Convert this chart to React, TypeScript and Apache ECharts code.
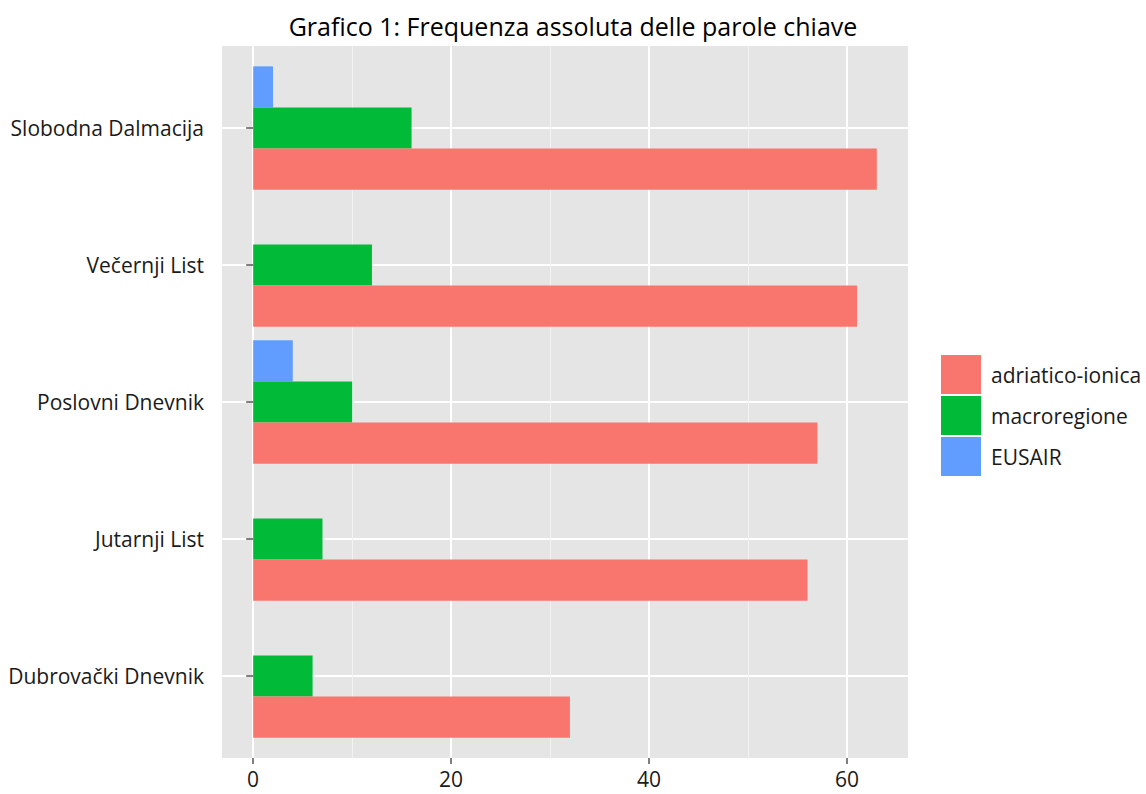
import React, { useEffect, useRef } from "react";
import * as echarts from "echarts";

const categories = [
  "Slobodna Dalmacija",
  "Večernji List",
  "Poslovni Dnevnik",
  "Jutarnji List",
  "Dubrovački Dnevnik",
];
const adriaticoIonica = [63, 61, 57, 56, 32];
const macroregione = [16, 12, 10, 7, 6];
const eusair = [2, 0, 4, 0, 0];
const legendOrder = ["adriatico-ionica", "macroregione", "EUSAIR"];

const FONT = "'Open Sans', 'Noto Sans', sans-serif";
const TEXT = "#1a1a1a";
const TICK = "#7f7f7f";

export default function App() {
  const ref = useRef<HTMLDivElement>(null);
  useEffect(() => {
    if (!ref.current) return;
    const chart = echarts.init(ref.current, null, { renderer: "svg" });
    const barCommon = {
      type: "bar",
      xAxisIndex: 2,
      yAxisIndex: 2,
      barGap: "0%",
      barCategoryGap: "10%",
      clip: false,
    };
    chart.setOption({
      animation: false,
      backgroundColor: "#ffffff",
      title: {
        text: "Grafico 1: Frequenza assoluta delle parole chiave",
        left: "center",
        top: 8,
        textStyle: { fontFamily: FONT, fontSize: 25, fontWeight: "normal", color: "#000" },
      },
      legend: {
        orient: "vertical",
        left: 941,
        top: 355,
        itemWidth: 40,
        itemHeight: 39,
        itemGap: 2,
        icon: "rect",
        padding: 0,
        selectedMode: false,
        data: legendOrder,
        textStyle: { fontFamily: FONT, fontSize: 21, color: TEXT, padding: [0, 0, 0, 5] },
      },
      grid: [
        { left: 222, top: 46, width: 686, height: 712, show: true, backgroundColor: "#E5E5E5", borderWidth: 0 },
        { left: 253, top: 46, width: 594, height: 712 },
        { left: 222, top: 128, width: 686, height: 548 },
      ],
      xAxis: [
        { gridIndex: 0, type: "value", show: false, min: 0, max: 1 },
        {
          gridIndex: 1,
          type: "value",
          min: 0,
          max: 60,
          interval: 20,
          axisLine: { show: false },
          axisTick: { show: true, length: 6, lineStyle: { color: TICK, width: 2 } },
          axisLabel: {
            margin: 10,
            fontSize: 21,
            lineHeight: 21,
            color: TEXT,
            fontFamily: FONT,
            showMinLabel: true,
            showMaxLabel: true,
          },
          splitLine: { show: true, lineStyle: { color: "#ffffff", width: 2 } },
          minorTick: { show: false, splitNumber: 2 },
          minorSplitLine: { show: true, lineStyle: { color: "#F2F2F2", width: 1 } },
        },
        { gridIndex: 2, type: "value", min: -3.15, max: 66.15, show: false },
      ],
      yAxis: [
        { gridIndex: 0, type: "value", show: false },
        { gridIndex: 1, type: "value", show: false },
        {
          gridIndex: 2,
          type: "category",
          data: categories,
          inverse: true,
          boundaryGap: false,
          axisLine: { show: false },
          axisTick: { show: true, length: 7, lineStyle: { color: TICK, width: 2 } },
          axisLabel: { margin: 18, fontSize: 21, color: TEXT, fontFamily: FONT },
          splitLine: { show: true, lineStyle: { color: "#ffffff", width: 2 } },
        },
      ],
      series: [
        { ...barCommon, name: "EUSAIR", data: eusair, itemStyle: { color: "#619CFF" } },
        { ...barCommon, name: "macroregione", data: macroregione, itemStyle: { color: "#00BA38" } },
        { ...barCommon, name: "adriatico-ionica", data: adriaticoIonica, itemStyle: { color: "#F8766D" } },
      ],
    });
    return () => chart.dispose();
  }, []);
  return (
    <div
      ref={ref}
      style={{ position: "absolute", left: 0, top: 0, width: 1146, height: 794, background: "#fff" }}
    />
  );
}
